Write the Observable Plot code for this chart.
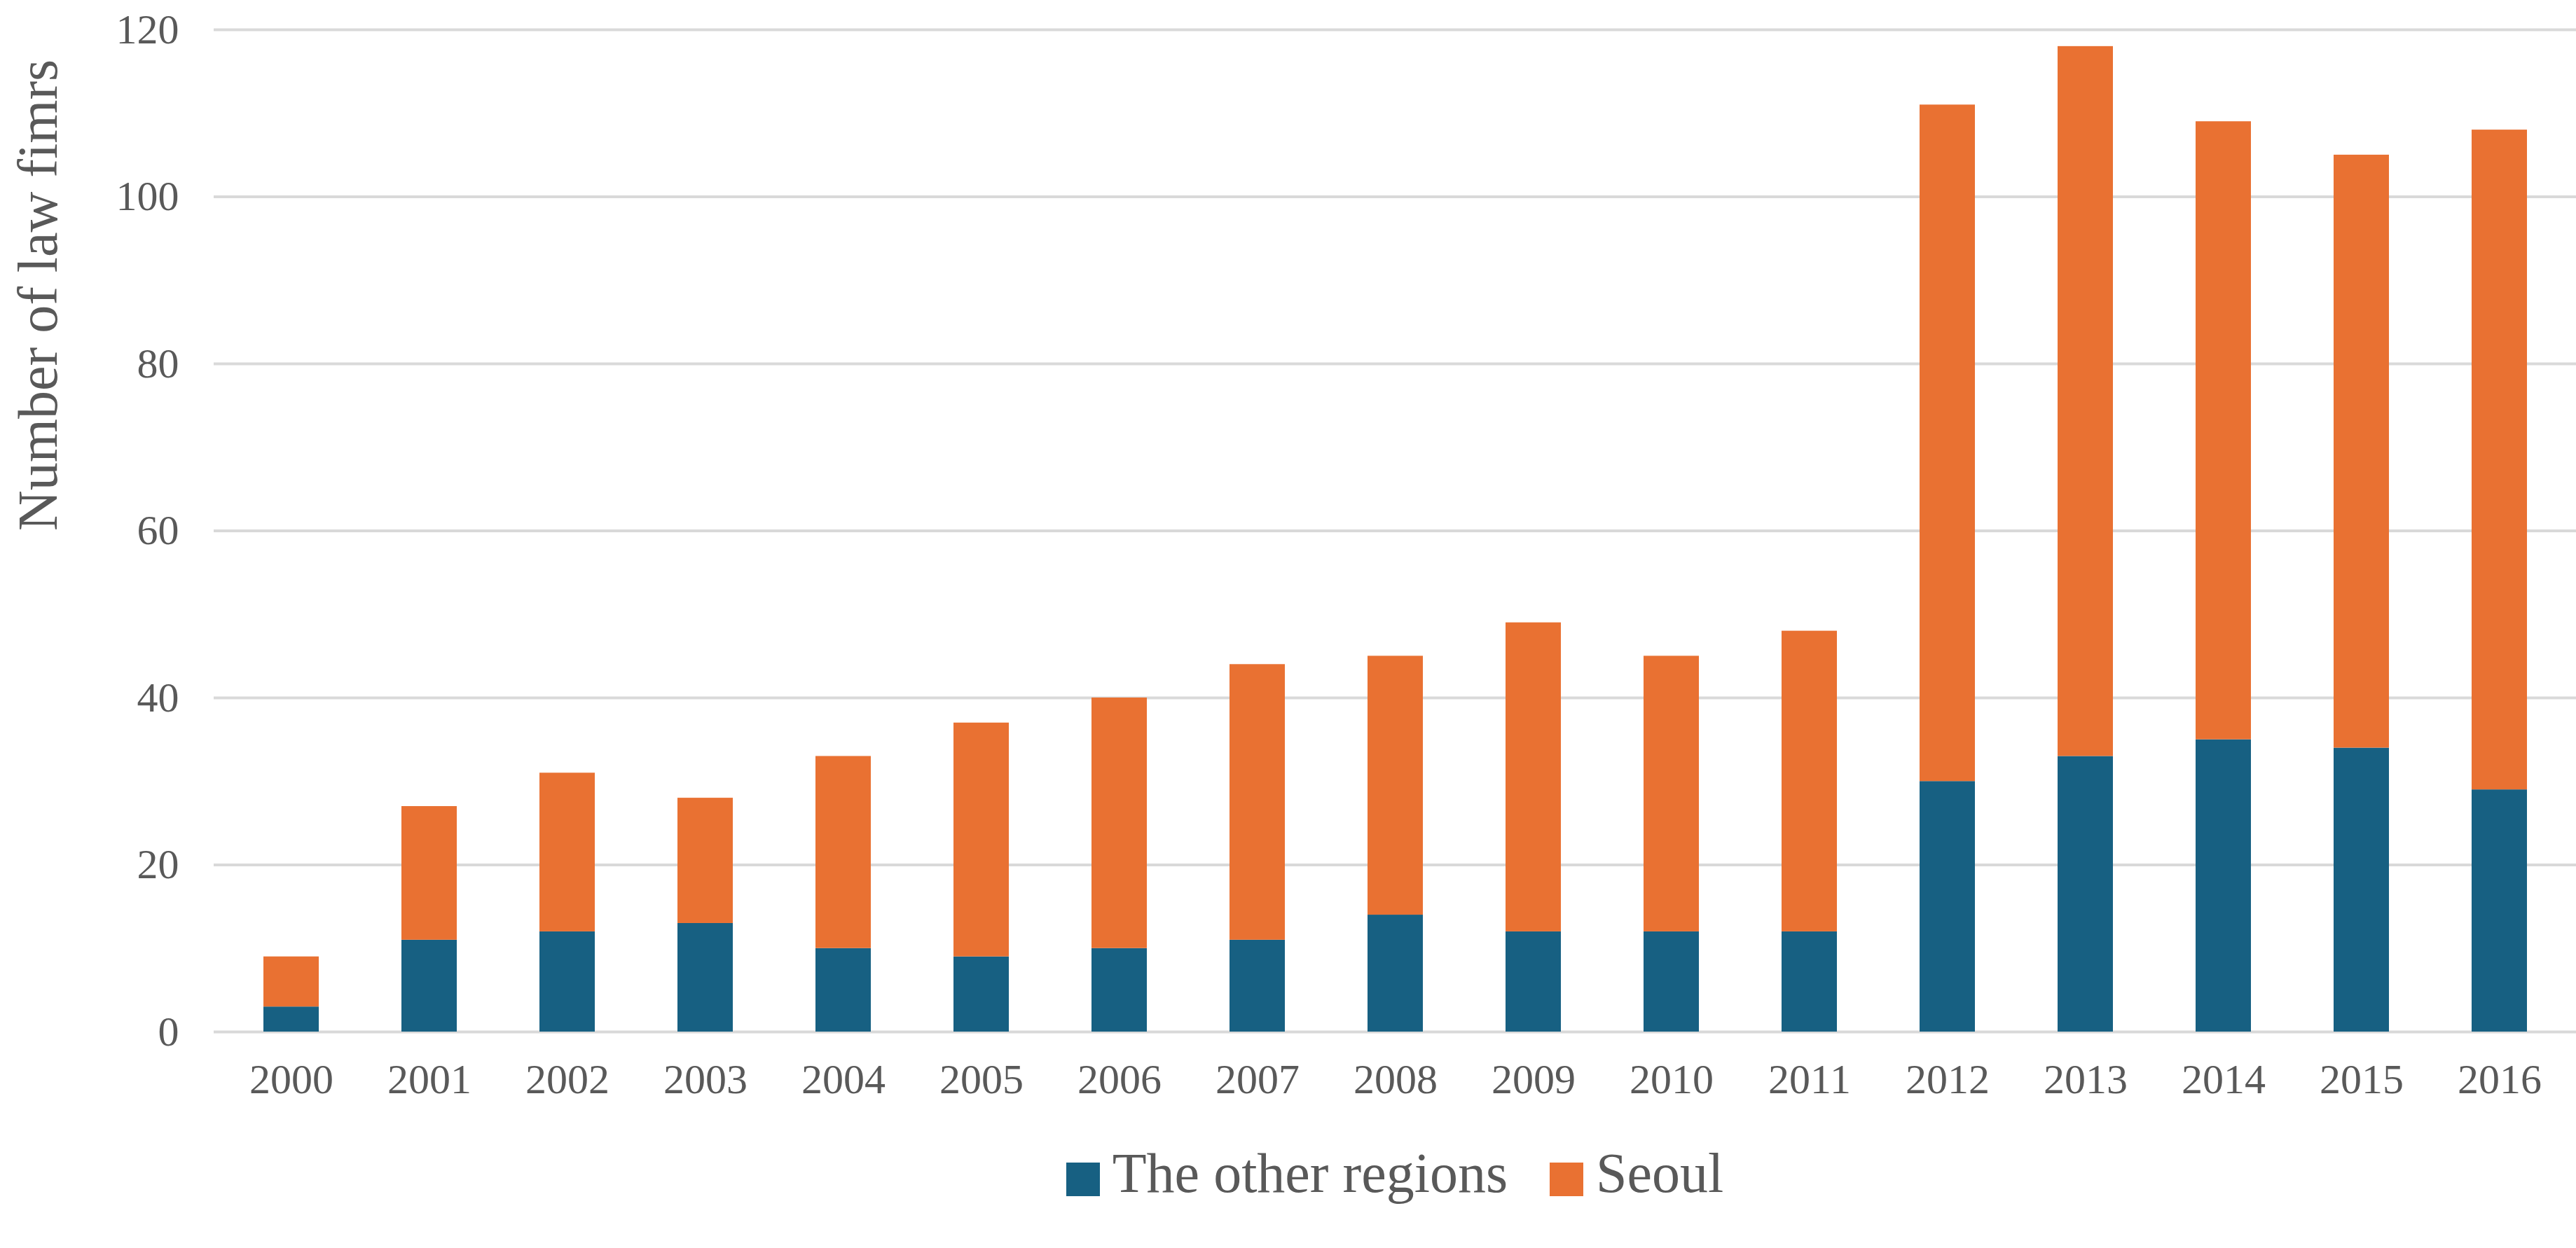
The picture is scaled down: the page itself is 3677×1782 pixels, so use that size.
<!DOCTYPE html>
<html><head><meta charset="utf-8">
<script src="https://cdn.jsdelivr.net/npm/d3@7"></script>
<script src="https://cdn.jsdelivr.net/npm/@observablehq/plot@0.6"></script>
<style>
body{margin:0;background:#fff;font-family:"Liberation Serif",serif;}
#legend{display:flex;justify-content:center;gap:60px;font-size:80px;color:#595959;margin-left:305px;margin-top:10px}
#legend span.sw{display:inline-block;width:48px;height:48px;margin-right:18px;vertical-align:middle}
</style></head><body>
<div id="chart"></div>
<div id="legend">
<div><span class="sw" style="background:#176082"></span>The other regions</div>
<div><span class="sw" style="background:#e97132"></span>Seoul</div>
</div>
<script>
const years = ["2000","2001","2002","2003","2004","2005","2006","2007","2008","2009","2010","2011","2012","2013","2014","2015","2016"];
const otherRegions = [3,11,12,13,10,9,10,11,14,12,12,12,30,33,35,34,29];
const seoul = [6,16,19,15,23,28,30,33,31,37,33,36,81,85,74,71,79];
const yTicks = [0,20,40,60,80,100,120];
const seriesNames = ["The other regions","Seoul"];
const colors = ["#176082","#e97132"];

const data = [];
years.forEach((y,i)=>{
  data.push({year:y, series:seriesNames[0], value:otherRegions[i]});
  data.push({year:y, series:seriesNames[1], value:seoul[i]});
});

const chart = Plot.plot({
  width:3677, height:1620,
  marginTop:42, marginBottom:147, marginLeft:305, marginRight:0,
  style:{fontFamily:"Liberation Serif, serif", background:"#fff"},
  x:{domain:years, paddingInner:0.6, paddingOuter:0.33, label:null},
  y:{domain:[0,120], label:null},
  color:{domain:seriesNames, range:colors},
  marks:[
    Plot.ruleY(yTicks,{stroke:"#d9d9d9", strokeWidth:4}),
    Plot.barY(data, Plot.stackY({x:"year", y:"value", fill:"series", order:seriesNames})),
    Plot.axisX({tickSize:0, fontSize:60, fill:"#595959", tickPadding:45}),
    Plot.axisY({ticks:yTicks, tickSize:0, fontSize:60, fill:"#595959", tickPadding:50, label:null, tickFormat:d=>String(d)}),
    Plot.text(["Number of law fimrs"],{frameAnchor:"left", dx:-250, rotate:-90, fontSize:80, fill:"#595959"})
  ]
});
document.getElementById("chart").appendChild(chart);
</script>
</body></html>
